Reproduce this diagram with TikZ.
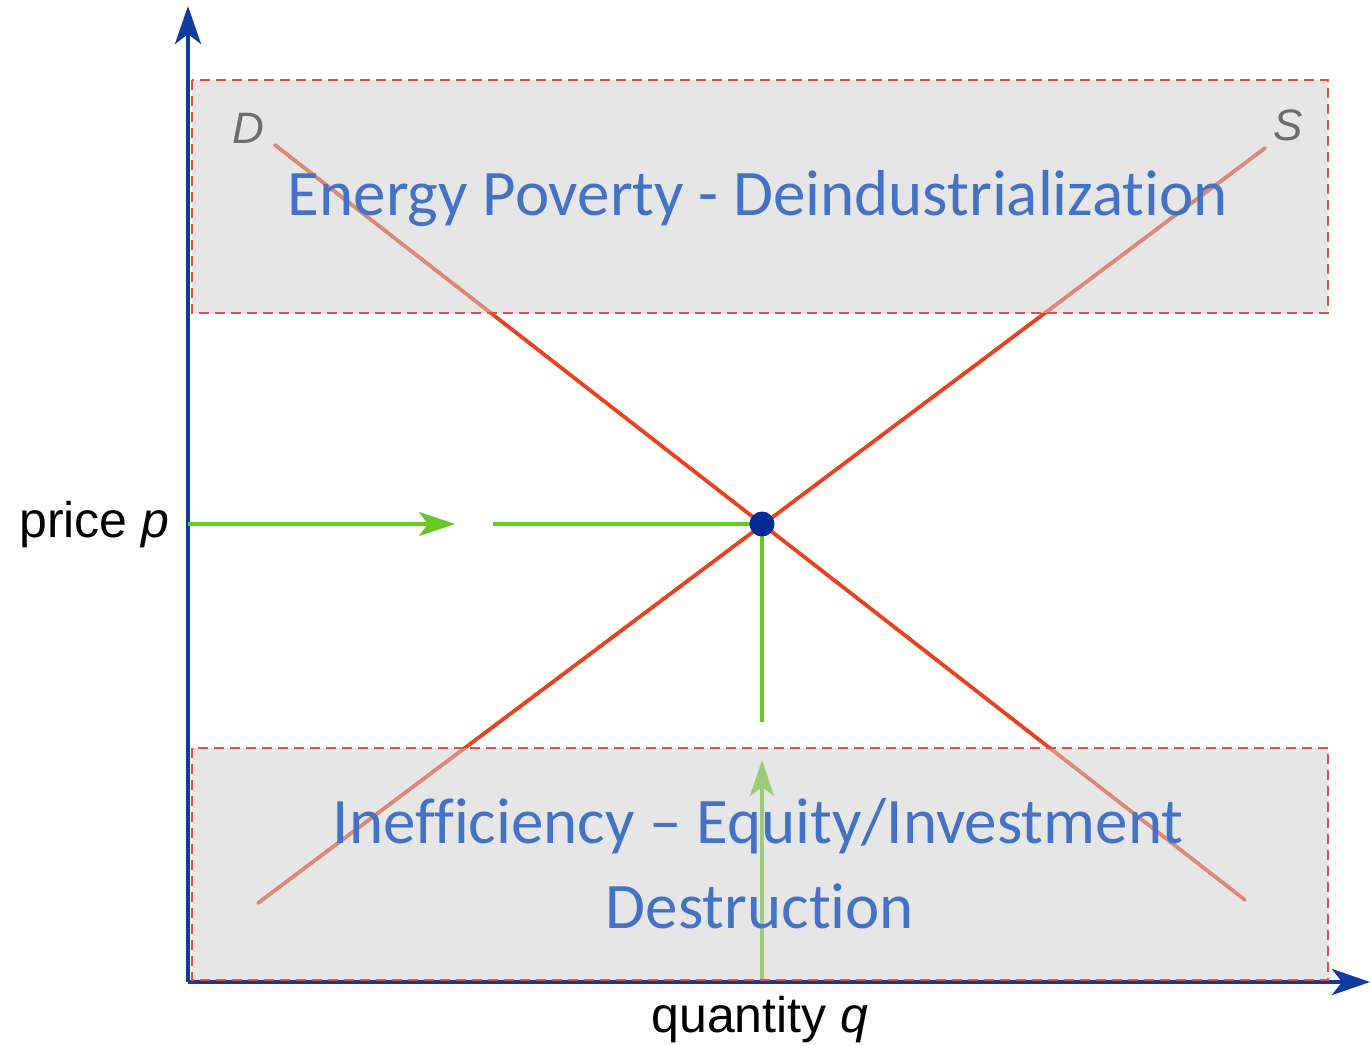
\documentclass[tikz,border=0pt]{standalone}
\usepackage{fontspec}
\setmainfont{Liberation Sans}
\newfontfamily\zonefont[Ligatures=NoCommon]{Carlito}
\usetikzlibrary{arrows.meta}

\definecolor{axisblue}{RGB}{16,58,160}
\definecolor{dotblue}{RGB}{4,40,150}
\definecolor{curvered}{RGB}{232,66,30}
\definecolor{guidegreen}{RGB}{104,200,36}
\definecolor{zonegray}{RGB}{208,206,206}
\definecolor{zoneedge}{RGB}{222,80,70}
\definecolor{zoneblue}{RGB}{68,114,196}
\definecolor{labelgray}{RGB}{108,108,108}

\tikzset{
  axis/.style={axisblue, line width=4.2pt, -{Stealth[length=38pt,width=26pt,inset=10pt]}},
  curve/.style={curvered, line width=3.8pt},
  guide/.style={guidegreen, line width=3.8pt},
  guidearrow/.style={guide, -{Stealth[length=36pt,width=24pt,inset=9pt]}},
  zone/.style={draw=zoneedge, line width=1.4pt, dash pattern=on 10pt off 6pt,
    fill=zonegray, fill opacity=0.5},
  zonetext/.style={text=zoneblue, font=\zonefont\fontsize{65}{78}\selectfont, anchor=base},
  curvelabel/.style={text=labelgray, font=\fontsize{44}{52}\selectfont\itshape, anchor=base},
}

\begin{document}
\begin{tikzpicture}[x=1pt,y=-1pt]
\useasboundingbox (0,0) rectangle (1371,1045);

%% Axes
\coordinate (O) at (188,982);
\coordinate (ytop) at (188,6);
\coordinate (xend) at (1370,982);
\draw[axis] (O) -- (ytop);
\draw[axis] (O) -- (xend);
\node[anchor=base east, font=\fontsize{50}{58}\selectfont] (plabel) at (173,537) {price \textit{p}};
\node[anchor=base, font=\fontsize{50}{58}\selectfont] (qlabel) at (760,1032) {quantity \textit{q}};

% demand and supply
\coordinate (d0) at (275,145);
\coordinate (d1) at (1245,900);
\coordinate (s0) at (258,903);
\coordinate (s1) at (1265,148);
\draw[curve, line cap=round] (d0) -- (d1);
\draw[curve, line cap=round] (s0) -- (s1);

% price and quantity guides
\coordinate (eqc) at (762,524);
\coordinate (pstart) at (188,524);
\coordinate (ptip) at (455,524);
\coordinate (pgap) at (493,524);
\coordinate (qstop) at (762,722);
\coordinate (qstart) at (762,980);
\coordinate (qtip) at (762,760);
\draw[guidearrow] (pstart) -- (ptip);
\draw[guide] (pgap) -- (eqc);
\draw[guide] (eqc) -- (qstop);
\draw[guidearrow] (qstart) -- (qtip);
\node[circle, fill=dotblue, minimum size=25pt, inner sep=0pt] (eq) at (eqc) {};

%% Zones
\draw[zone] (192,80) rectangle (1328,313);
\draw[zone] (192,748) rectangle (1328,980);

% curve names
\node[curvelabel] (dlabel) at (248,143) {D};
\node[curvelabel] (slabel) at (1288,140) {S};

% top zone
\node[zonetext] (poverty) at (758,215) {Energy Poverty - Deindustrialization};

% bottom zone
\node[zonetext] (inefficiency) at (758,843) {Inefficiency – Equity/Investment};
\node[zonetext] (destruction) at (760,928) {Destruction};

\end{tikzpicture}
\end{document}
